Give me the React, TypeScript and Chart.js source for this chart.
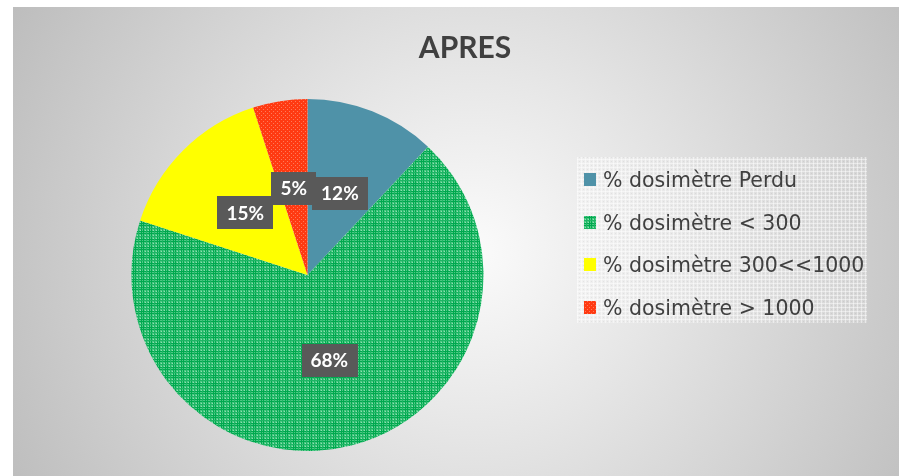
import React, { useEffect, useRef } from "react";
import { Chart, registerables } from "chart.js";

Chart.register(...registerables);

// ---- data ----
const chartTitle = "APRES";
const categories = [
  "% dosimètre Perdu",
  "% dosimètre < 300",
  "% dosimètre 300<<1000",
  "% dosimètre > 1000",
];
const values = [12, 68, 15, 5];
const valueLabels = ["12%", "68%", "15%", "5%"];

// ---- patterns ----
function makeTile(size: number, draw: (c: CanvasRenderingContext2D) => void) {
  const cv = document.createElement("canvas");
  cv.width = size;
  cv.height = size;
  const c = cv.getContext("2d")!;
  draw(c);
  return cv;
}

function buildFills(ctx: CanvasRenderingContext2D) {
  const greenTile = makeTile(8, (c) => {
    c.fillStyle = "#4cc884";
    c.fillRect(0, 0, 8, 8);
    c.fillStyle = "#00a94f";
    c.fillRect(0, 0, 1, 8);
    c.fillRect(2, 0, 1, 8);
    c.fillRect(0, 0, 8, 1);
    c.fillRect(0, 2, 8, 1);
    c.fillStyle = "#1db564";
    c.fillRect(5, 0, 1, 8);
    c.fillRect(0, 5, 8, 1);
    c.fillStyle = "#8fe0b2";
    c.fillRect(4, 4, 1, 1);
    c.fillRect(7, 7, 1, 1);
    c.fillRect(4, 7, 1, 1);
    c.fillRect(7, 4, 1, 1);
  });
  const redTile = makeTile(4, (c) => {
    c.fillStyle = "#ff3a12";
    c.fillRect(0, 0, 4, 4);
    c.fillStyle = "#ff7a5a";
    c.fillRect(0, 0, 1, 1);
    c.fillRect(2, 2, 1, 1);
  });
  const legendTile = makeTile(4, (c) => {
    c.fillStyle = "rgba(255,255,255,0.18)";
    c.fillRect(0, 0, 4, 4);
    c.fillStyle = "rgba(255,255,255,0.45)";
    c.fillRect(0, 0, 4, 1);
    c.fillRect(0, 0, 1, 4);
    c.fillStyle = "rgba(0,0,0,0.05)";
    c.fillRect(2, 2, 1, 1);
  });
  return {
    colors: [
      "#4f92a8",
      ctx.createPattern(greenTile, "repeat")!,
      "#ffff00",
      ctx.createPattern(redTile, "repeat")!,
    ],
    legendBg: ctx.createPattern(legendTile, "repeat")!,
  };
}

export default function App() {
  const ref = useRef<HTMLCanvasElement | null>(null);

  useEffect(() => {
    const canvas = ref.current!;
    const ctx = canvas.getContext("2d")!;
    const fills = buildFills(ctx);

    const decor = {
      id: "decor",
      afterDatasetsDraw(chart: any) {
        const c = chart.ctx as CanvasRenderingContext2D;
        const meta = chart.getDatasetMeta(0);
        c.save();
        c.font = "bold 19px Lato";
        c.textAlign = "center";
        c.textBaseline = "middle";
        meta.data.forEach((arc: any, i: number) => {
          const p = arc.tooltipPosition();
          const txt = valueLabels[i];
          const w = c.measureText(txt).width + 18;
          const h = 33;
          c.fillStyle = "#595959";
          c.fillRect(Math.round(p.x - w / 2), Math.round(p.y - h / 2), Math.round(w), h);
          c.fillStyle = "#ffffff";
          c.fillText(txt, p.x, p.y + 1);
        });
        c.restore();
      },
      afterDraw(chart: any) {
        const c = chart.ctx as CanvasRenderingContext2D;
        c.save();
        // title
        c.font = "bold 30px Lato";
        c.fillStyle = "#404040";
        c.textAlign = "center";
        c.textBaseline = "alphabetic";
        c.fillText(chartTitle, 452, 51);
        // legend
        c.fillStyle = fills.legendBg;
        c.fillRect(564, 150, 290, 166);
        c.font = '20.5px "DejaVu Sans"';
        c.textAlign = "left";
        categories.forEach((lab, i) => {
          const base = 180 + i * 42.5;
          c.fillStyle = fills.colors[i] as any;
          c.fillRect(571, Math.round(base - 14), 12, 13);
          c.fillStyle = "#404040";
          c.fillText(lab, 590, base);
        });
        c.restore();
      },
    };

    const chart = new Chart(canvas, {
      type: "pie",
      data: {
        labels: categories,
        datasets: [
          {
            data: values,
            backgroundColor: fills.colors as any,
            borderWidth: 0,
          },
        ],
      },
      options: {
        responsive: false,
        animation: false,
        events: [],
        layout: { padding: { left: 118, top: 92, right: 433, bottom: 25 } },
        plugins: {
          legend: { display: false },
          title: { display: false },
          tooltip: { enabled: false },
        },
      },
      plugins: [decor],
    });
    return () => chart.destroy();
  }, []);

  return (
    <div
      style={{
        position: "absolute",
        left: 13,
        top: 7,
        width: 886,
        height: 469,
        overflow: "hidden",
      }}
    >
      <div
        style={{
          width: 904,
          height: 469,
          background:
            "radial-gradient(circle farthest-corner at 51% 52%, #fbfbfb 0%, #e6e6e6 35%, #bdbdbd 100%)",
        }}
      >
        <canvas ref={ref} width={904} height={469} style={{ display: "block" }} />
      </div>
    </div>
  );
}
